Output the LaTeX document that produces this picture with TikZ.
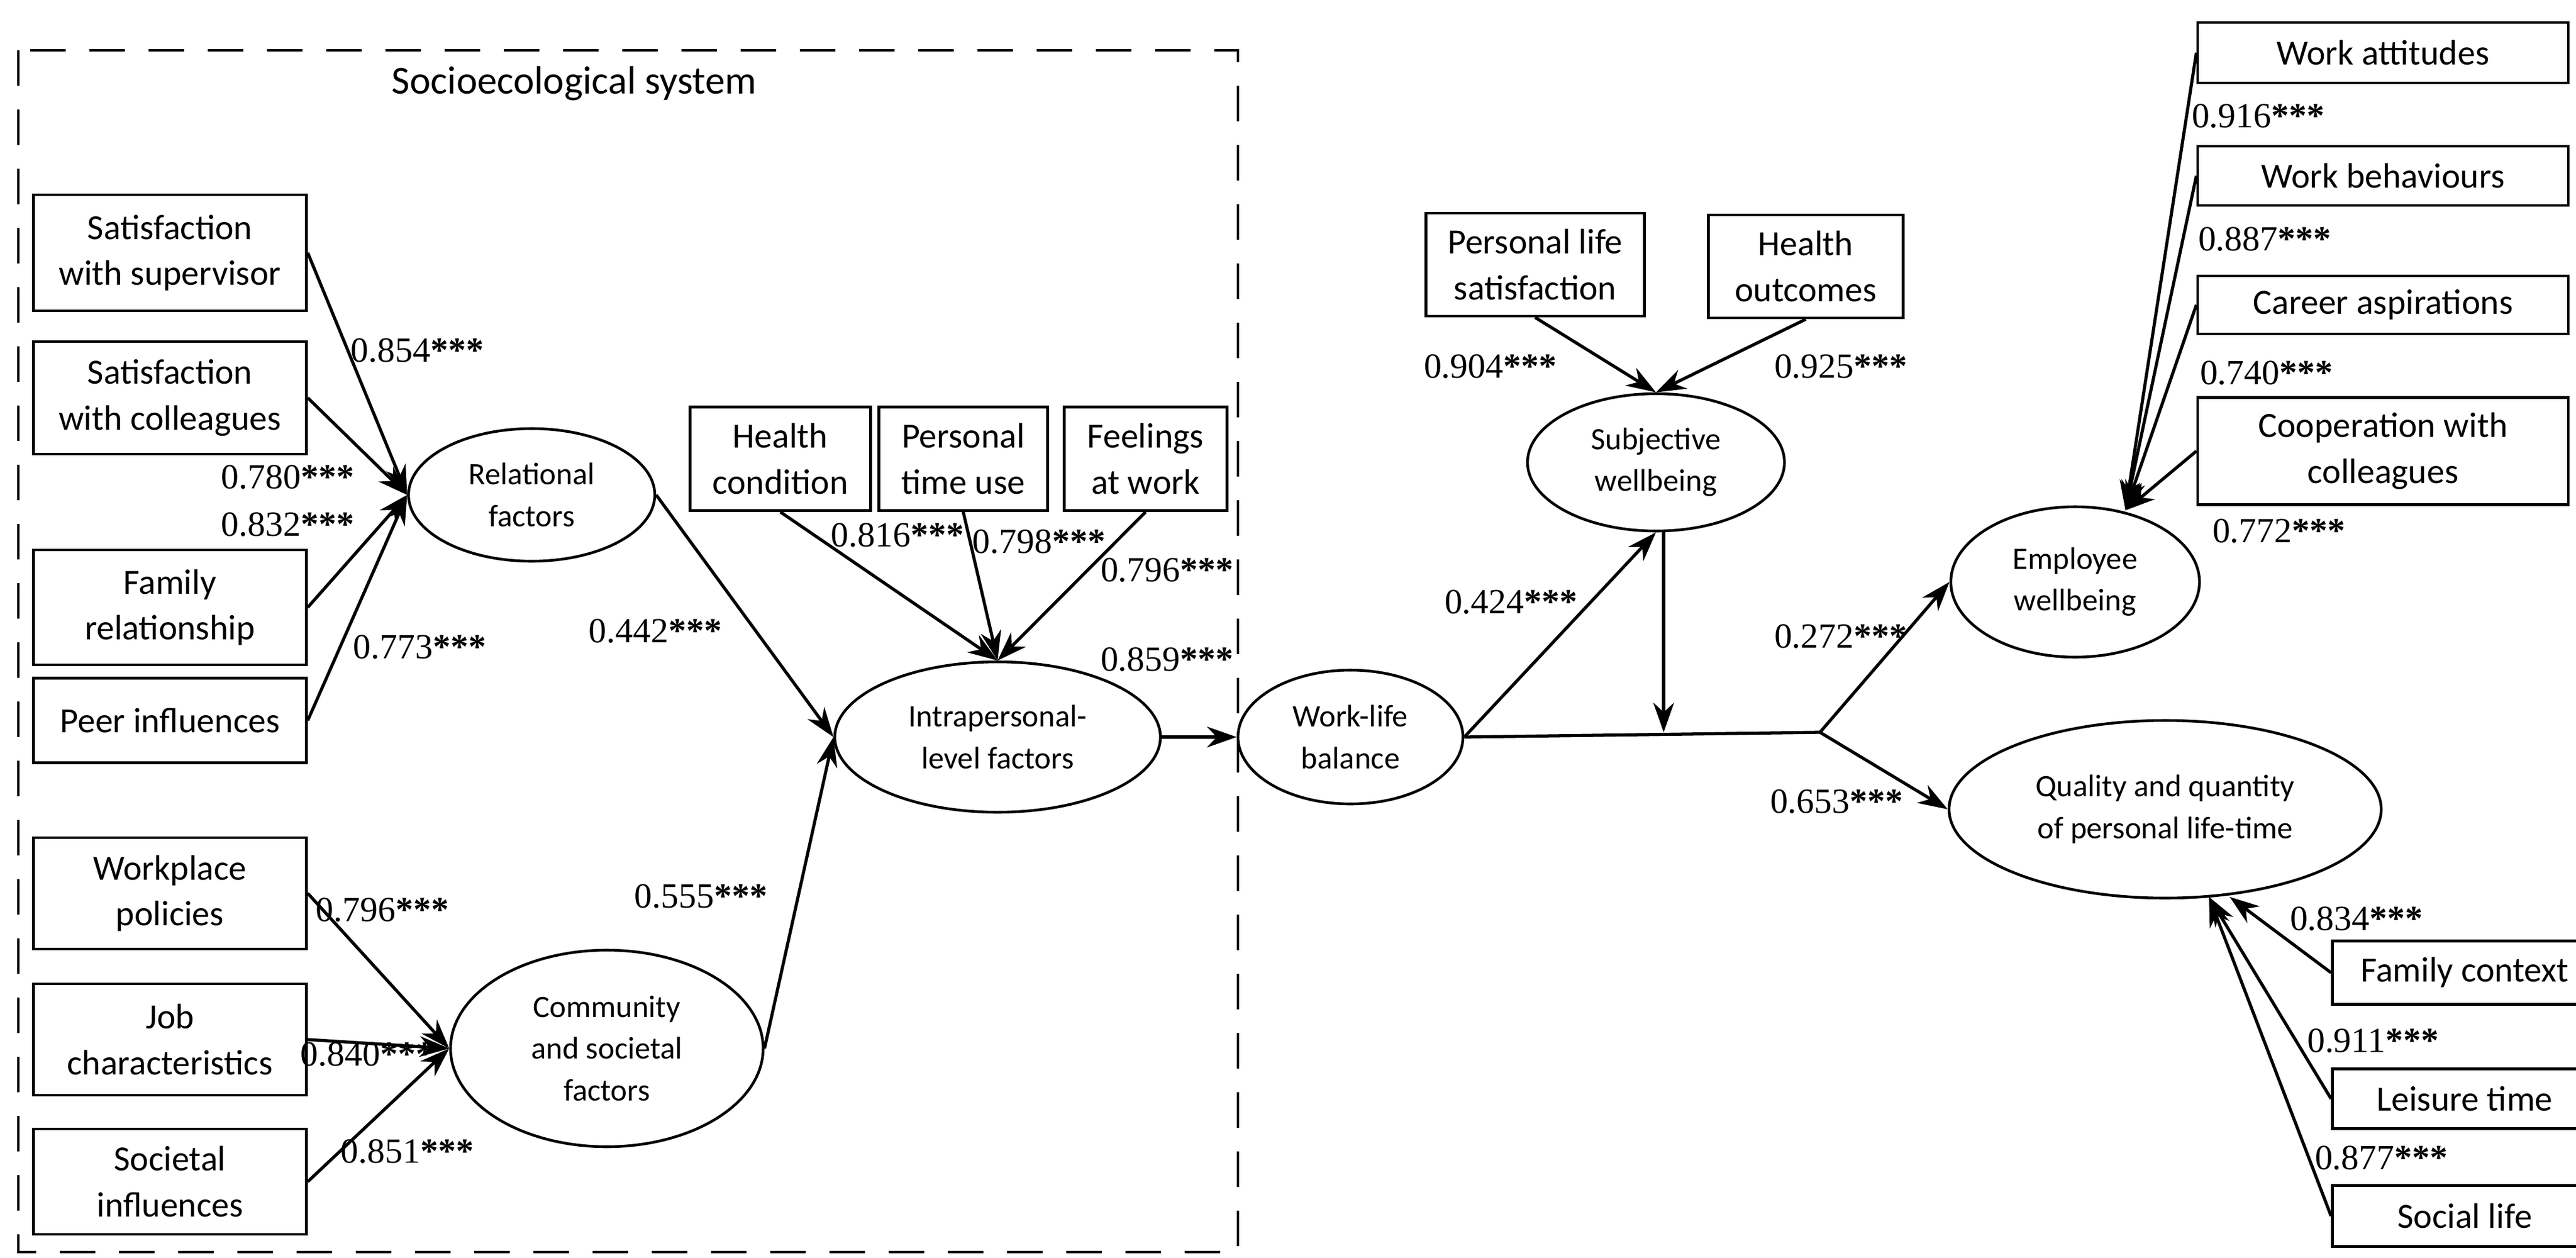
\documentclass[tikz,border=0pt]{standalone}
\usepackage{fontspec}
\setmainfont{Carlito}
\newfontfamily\numfont{Liberation Serif}
\usetikzlibrary{arrows.meta}
\usetikzlibrary{shapes.geometric}

\begin{document}
\begin{tikzpicture}[
		box/.style={draw,line width=1.3pt,inner sep=0pt,align=center,font=\fontsize{17}{22}\selectfont},
		latent/.style={draw,ellipse,line width=1.3pt,inner sep=0pt,align=center,font=\fontsize{15}{20}\selectfont},
		coef/.style={font=\numfont\fontsize{17}{20}\selectfont},
		path/.style={line width=1.5pt,-{Stealth[length=5mm,width=3.5mm]}},
		plain/.style={line width=1.5pt}]
		\useasboundingbox (0,0) rectangle (43.51,-21.25);
		%
		\draw[dashed,line width=1.3pt,dash pattern=on 6mm off 4mm] (0.31,-0.85) rectangle (20.91,-21.15);
		\node[font=\fontsize{19}{22}\selectfont] (title) at (9.7,-1.41) {Socioecological system};
		%
		\node[box,minimum width=4.61cm,minimum height=1.96cm] (sup) at (2.87,-4.27) {Satisfaction\\with supervisor};
		\node[box,minimum width=4.61cm,minimum height=1.9cm] (col) at (2.87,-6.72) {Satisfaction\\with colleagues};
		\node[box,minimum width=4.61cm,minimum height=1.94cm] (fam) at (2.87,-10.26) {Family\\relationship};
		\node[box,minimum width=4.61cm,minimum height=1.43cm] (peer) at (2.87,-12.17) {Peer influences};
		\node[box,minimum width=4.61cm,minimum height=1.88cm] (wpl) at (2.87,-15.09) {Workplace\\policies};
		\node[box,minimum width=4.61cm,minimum height=1.88cm] (job) at (2.87,-17.56) {Job\\characteristics};
		\node[box,minimum width=4.61cm,minimum height=1.78cm] (soc) at (2.87,-19.96) {Societal\\influences};
		%
		\node[latent,minimum width=4.16cm,minimum height=2.24cm] (rel) at (8.98,-8.36) {Relational\\factors};
		\node[latent,minimum width=5.28cm,minimum height=3.32cm] (com) at (10.25,-17.71) {Community\\and societal\\factors};
		%
		\node[box,minimum width=3.05cm,minimum height=1.75cm] (hc) at (13.18,-7.75) {Health\\condition};
		\node[box,minimum width=2.85cm,minimum height=1.75cm] (ptu) at (16.27,-7.75) {Personal\\time use};
		\node[box,minimum width=2.75cm,minimum height=1.75cm] (faw) at (19.35,-7.75) {Feelings\\at work};
		\node[latent,minimum width=5.5cm,minimum height=2.54cm] (intra) at (16.85,-12.45) {Intrapersonal-\\level factors};
		%
		\node[latent,minimum width=3.8cm,minimum height=2.26cm] (wlb) at (22.81,-12.45) {Work-life\\balance};
		\node[latent,minimum width=4.34cm,minimum height=2.32cm] (swb) at (27.97,-7.81) {Subjective\\wellbeing};
		\node[box,minimum width=3.69cm,minimum height=1.74cm] (pls) at (25.93,-4.47) {Personal life\\satisfaction};
		\node[box,minimum width=3.29cm,minimum height=1.74cm] (ho) at (30.5,-4.5) {Health\\outcomes};
		\coordinate (join) at (28.1,-12.37);
		\coordinate (fork) at (30.74,-12.37);
		%
		\node[latent,minimum width=4.2cm,minimum height=2.54cm] (ewb) at (35.05,-9.83) {Employee\\wellbeing};
		\node[latent,minimum width=7.3cm,minimum height=3.0cm] (qql) at (36.57,-13.67) {Quality and quantity\\of personal life-time};
		%
		\node[box,minimum width=6.26cm,minimum height=1.02cm] (wat) at (40.25,-0.89) {Work attitudes};
		\node[box,minimum width=6.26cm,minimum height=1.0cm] (wbe) at (40.25,-2.97) {Work behaviours};
		\node[box,minimum width=6.26cm,minimum height=0.98cm] (car) at (40.25,-5.15) {Career aspirations};
		\node[box,minimum width=6.26cm,minimum height=1.81cm] (coop) at (40.25,-7.62) {Cooperation with\\colleagues};
		\node[box,minimum width=4.47cm,minimum height=1.07cm] (fc) at (41.63,-16.43) {Family context};
		\node[box,minimum width=4.47cm,minimum height=1.01cm] (lt) at (41.63,-18.56) {Leisure time};
		\node[box,minimum width=4.47cm,minimum height=1.03cm] (sl) at (41.63,-20.54) {Social life};
		\coordinate (ewbtip) at (35.9,-8.62);
		\coordinate (qtip) at (37.31,-15.15);
		\coordinate (qtipb) at (37.66,-15.15);
		%
		\draw[path] (sup.east) -- (rel.west);
		\draw[path] (col.east) -- (rel.west);
		\draw[path] (fam.east) -- (rel.west);
		\draw[path] (peer.east) -- (rel.west);
		\draw[path] (wpl.east) -- (com.west);
		\draw[path] (job.east) -- (com.west);
		\draw[path] (soc.east) -- (com.west);
		\draw[path] (rel.east) -- (intra.west);
		\draw[path] (com.east) -- (intra.west);
		\draw[path] (hc.south) -- (intra.north);
		\draw[path] (ptu.south) -- (intra.north);
		\draw[path] (faw.south) -- (intra.north);
		\draw[path] (intra.east) -- (wlb.west);
		\draw[path] (wlb.east) -- (swb.south);
		\draw[path] (pls.south) -- (swb.north);
		\draw[path] (ho.south) -- (swb.north);
		\draw[path] (swb.south -| join) -- (join);
		\draw[plain] (wlb.east) -- (fork);
		\draw[path] (fork) -- (ewb.west);
		\draw[path] (fork) -- (qql.west);
		\foreach \b in {wat,wbe,car,coop}
			\draw[path] (\b.west) -- (ewbtip);
		\draw[path] (fc.west) -- (qtipb);
		\draw[path] (lt.west) -- (qtip);
		\draw[path] (sl.west) -- (qtip);
		%
		\node[coef] (c1) at (7.05,-5.92) {0.854\textbf{***}};
		\node[coef] (c2) at (4.86,-8.06) {0.780\textbf{***}};
		\node[coef] (c3) at (4.86,-8.86) {0.832\textbf{***}};
		\node[coef] (c4) at (7.09,-10.93) {0.773\textbf{***}};
		\node[coef] (c5) at (11.07,-10.66) {0.442\textbf{***}};
		\node[coef] (c6) at (15.16,-9.04) {0.816\textbf{***}};
		\node[coef] (c7) at (17.55,-9.15) {0.798\textbf{***}};
		\node[coef] (c8) at (19.71,-9.63) {0.796\textbf{***}};
		\node[coef] (c9) at (19.71,-11.14) {0.859\textbf{***}};
		\node[coef] (c10) at (6.46,-15.37) {0.796\textbf{***}};
		\node[coef] (c11) at (6.2,-17.81) {0.840\textbf{***}};
		\node[coef] (c12) at (6.88,-19.45) {0.851\textbf{***}};
		\node[coef] (c13) at (11.84,-15.14) {0.555\textbf{***}};
		\node[coef] (c14) at (25.17,-6.19) {0.904\textbf{***}};
		\node[coef] (c15) at (31.09,-6.19) {0.925\textbf{***}};
		\node[coef] (c16) at (25.52,-10.17) {0.424\textbf{***}};
		\node[coef] (c17) at (31.09,-10.75) {0.272\textbf{***}};
		\node[coef] (c18) at (31.02,-13.54) {0.653\textbf{***}};
		\node[coef] (c19) at (38.14,-1.96) {0.916\textbf{***}};
		\node[coef] (c20) at (38.25,-4.04) {0.887\textbf{***}};
		\node[coef] (c21) at (38.28,-6.3) {0.740\textbf{***}};
		\node[coef] (c22) at (38.49,-8.97) {0.772\textbf{***}};
		\node[coef] (c23) at (39.8,-15.52) {0.834\textbf{***}};
		\node[coef] (c24) at (40.08,-17.58) {0.911\textbf{***}};
		\node[coef] (c25) at (40.22,-19.56) {0.877\textbf{***}};
	\end{tikzpicture}
\end{document}
